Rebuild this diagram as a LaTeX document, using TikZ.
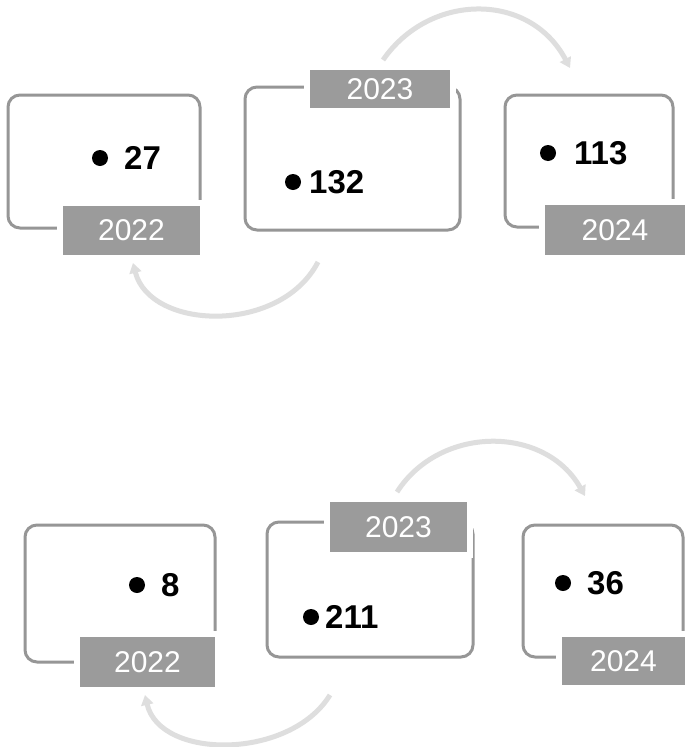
\documentclass[tikz,border=0pt]{standalone}
\usepackage{fontspec}
\setmainfont{Liberation Sans}
\usetikzlibrary{arrows.meta}
\definecolor{boxgray}{RGB}{150,150,150}
\definecolor{labgray}{RGB}{155,155,155}
\definecolor{arcgray}{RGB}{222,222,222}
\begin{document}
\begin{tikzpicture}[x=1pt,y=-1pt,
  card/.style={draw=boxgray, line width=3pt, rounded corners=12pt, inner sep=0pt},
  yearlab/.style={fill=labgray, text=white, font=\fontsize{30}{30}\selectfont, inner sep=0pt,
     preaction={draw=white, line width=12pt, line join=miter}},
  bullet/.style={circle, fill=black, inner sep=0pt, minimum size=16pt},
  num/.style={font=\bfseries\fontsize{33}{33}\selectfont, inner sep=0pt, anchor=west},
  flow/.style={draw=arcgray, line width=5pt, -{Triangle[length=10pt,width=12pt]}}]
\useasboundingbox (0,0) rectangle (688,747);
\fill[white] (0,0) rectangle (688,747);

% ---------- top row ----------
\node[card, minimum width=192pt, minimum height=133pt] (b1) at (104,161.5) {};
\node[card, minimum width=215pt, minimum height=143pt] (b2) at (352.5,158.5) {};
\node[card, minimum width=168pt, minimum height=132pt] (b3) at (589,161) {};

\node[yearlab, minimum width=137pt, minimum height=49pt] (l1) at (131.5,230.5) {2022};
\node[yearlab, minimum width=140pt, minimum height=38pt] (l2) at (380,89) {2023};
\node[yearlab, minimum width=140pt, minimum height=50pt] (l3) at (615,230) {2024};

\node[bullet] (d1) at (100,158) {};
\node[num] (n1) at (124,158) {27};
\node[bullet] (d2) at (293,182) {};
\node[num] (n2) at (309,182) {132};
\node[bullet] (d3) at (548,153) {};
\node[num] (n3) at (574,153) {113};

\coordinate (a1s) at (383,60);
\coordinate (a1e) at (570,68);
\draw[flow] (a1s) .. controls (430,-8) and (530,-8) .. (a1e);
\coordinate (a2s) at (318,262);
\coordinate (a2e) at (133,263);
\draw[flow] (a2s) .. controls (280,335) and (150,330) .. (a2e);

% ---------- bottom row ----------
\node[card, minimum width=190pt, minimum height=137pt] (b4) at (120,593.5) {};
\node[card, minimum width=206pt, minimum height=135pt] (b5) at (370,589.5) {};
\node[card, minimum width=160pt, minimum height=132pt] (b6) at (603,591) {};

\node[yearlab, minimum width=135pt, minimum height=50pt] (l4) at (147.5,662) {2022};
\node[yearlab, minimum width=137pt, minimum height=50pt] (l5) at (398.5,527) {2023};
\node[yearlab, minimum width=123pt, minimum height=48pt] (l6) at (623.5,661) {2024};

\node[bullet] (d4) at (137,585) {};
\node[num] (n4) at (161,585) {8};
\node[bullet] (d5) at (311,617) {};
\node[num] (n5) at (325,617) {211};
\node[bullet] (d6) at (563,583) {};
\node[num] (n6) at (587,583) {36};

\coordinate (a3s) at (397,492);
\coordinate (a3e) at (585,496);
\draw[flow] (a3s) .. controls (440,425) and (545,425) .. (a3e);
\coordinate (a4s) at (330,695);
\coordinate (a4e) at (145,695);
\draw[flow] (a4s) .. controls (290,760) and (160,760) .. (a4e);
\end{tikzpicture}
\end{document}
